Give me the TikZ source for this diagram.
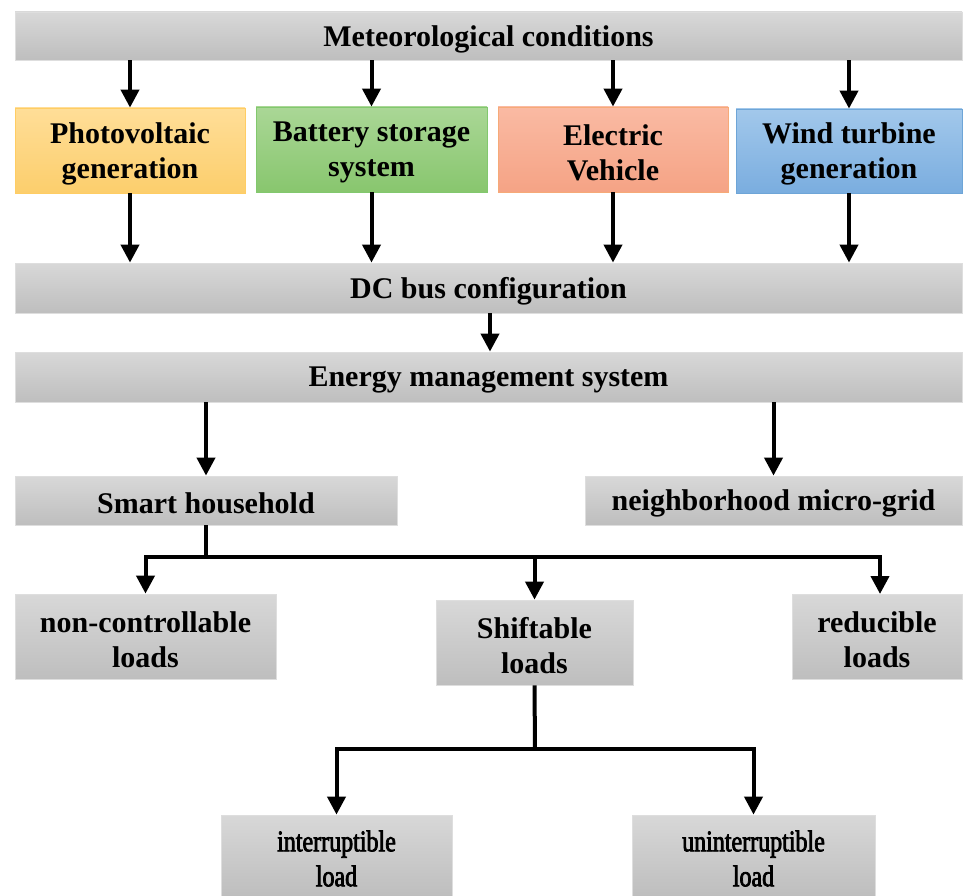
\documentclass[tikz,border=0pt]{standalone}
\usepackage{fontspec}
\setmainfont{Liberation Serif}
\newfontfamily\condfont[FakeStretch=0.8,FakeBold=2.5]{Liberation Serif}
\usetikzlibrary{arrows.meta}

\definecolor{grayTop}{RGB}{216,216,216}
\definecolor{grayBot}{RGB}{190,190,190}
\definecolor{grayLine}{RGB}{222,222,222}
\definecolor{pvTop}{RGB}{255,222,152}
\definecolor{pvBot}{RGB}{252,206,108}
\definecolor{pvLine}{RGB}{255,205,100}
\definecolor{batTop}{RGB}{170,215,150}
\definecolor{batBot}{RGB}{136,198,110}
\definecolor{batLine}{RGB}{130,200,110}
\definecolor{evTop}{RGB}{250,186,163}
\definecolor{evBot}{RGB}{245,163,133}
\definecolor{evLine}{RGB}{246,170,120}
\definecolor{wtTop}{RGB}{162,200,235}
\definecolor{wtBot}{RGB}{122,173,223}
\definecolor{wtLine}{RGB}{110,165,215}

\tikzset{
  x=1pt, y=-1pt,
  box/.style={draw=grayLine, line width=0.8pt, top color=grayTop, bottom color=grayBot, inner sep=0pt},
  pvbox/.style={box, draw=pvLine, top color=pvTop, bottom color=pvBot},
  batbox/.style={box, draw=batLine, top color=batTop, bottom color=batBot},
  evbox/.style={box, draw=evLine, top color=evTop, bottom color=evBot},
  wtbox/.style={box, draw=wtLine, top color=wtTop, bottom color=wtBot},
  leafbox/.style={box},
  txt/.style={inner sep=0pt, align=center, font=\fontsize{30}{35}\selectfont\bfseries},
  leaftxt/.style={inner sep=0pt, align=center, font=\fontsize{30}{35}\selectfont\condfont},
  conn/.style={line width=4pt, line join=miter},
  arr/.style={conn, -{Triangle[length=18pt,width=18pt]}},
}

% box: [style]{name}{x0}{y0}{x1}{y1}{text style}{text}
\newcommand{\boxat}[8][box]{%
  \node[#1, minimum width={#5-#3}, minimum height={#6-#4}] (#2) at ({(#3+#5)/2},{(#4+#6)/2}) {};
  \node[#7] (#2-text) at ([yshift=-3pt]#2.center) {#8};}

\begin{document}
\begin{tikzpicture}
\useasboundingbox (0,0) rectangle (963,896);

% sources and buses
\boxat{met}{15}{12}{962}{60}{txt}{Meteorological conditions}
\boxat[pvbox]{pv}{15}{108}{245}{193}{txt}{Photovoltaic\\generation}
\boxat[batbox]{bat}{256}{107}{487}{192}{txt}{Battery storage\\system}
\boxat[evbox]{ev}{498}{107}{728}{192}{txt}{Electric\\Vehicle}
\boxat[wtbox]{wt}{736}{109}{962}{193}{txt}{Wind turbine\\generation}
\boxat{dc}{15}{263}{962}{313}{txt}{DC bus configuration}
\boxat{ems}{15}{352}{962}{402}{txt}{Energy management system}

% consumers
\boxat{sh}{15}{476}{397}{525}{txt}{Smart household}
\boxat{nmg}{585}{476}{962}{525}{txt}{neighborhood micro-grid}
\boxat{nc}{15}{594}{276}{679}{txt}{non-controllable\\loads}
\boxat{shl}{436}{600}{633}{685}{txt}{Shiftable\\loads}
\boxat{red}{792}{594}{962}{679}{txt}{reducible\\loads}
\boxat[leafbox]{intr}{221}{815}{452}{896}{leaftxt}{interruptible\\load}
\boxat[leafbox]{unin}{632}{815}{875}{896}{leaftxt}{uninterruptible\\load}

% weather to sources
\foreach \n in {pv,bat,ev,wt}
  \draw[arr] (\n.north |- met.south) -- (\n.north);
% sources to DC bus
\foreach \n in {pv,bat,ev,wt}
  \draw[arr] (\n.south) -- (\n.south |- dc.north);
% DC bus to EMS
\coordinate (dcout) at (490,313);
\draw[arr] (dcout) -- (dcout |- ems.north);

% EMS to consumers
\draw[arr] (ems.south -| sh.north) -- (sh.north);
\draw[arr] (ems.south -| nmg.north) -- (nmg.north);

% household load classes
\coordinate (j1) at (206,557);
\coordinate (redin) at (880,594);
\draw[conn] (sh.south) -- (j1);
\draw[arr] (j1) -| (nc.north);
\draw[arr] (j1) -| (shl.north);
\draw[arr] (j1) -| (redin);

% shiftable load types
\coordinate (j2) at (535,749);
\draw[conn] (shl.south) -- (j2);
\draw[arr] (j2) -| (intr.north);
\draw[arr] (j2) -| (unin.north);
\end{tikzpicture}
\end{document}
